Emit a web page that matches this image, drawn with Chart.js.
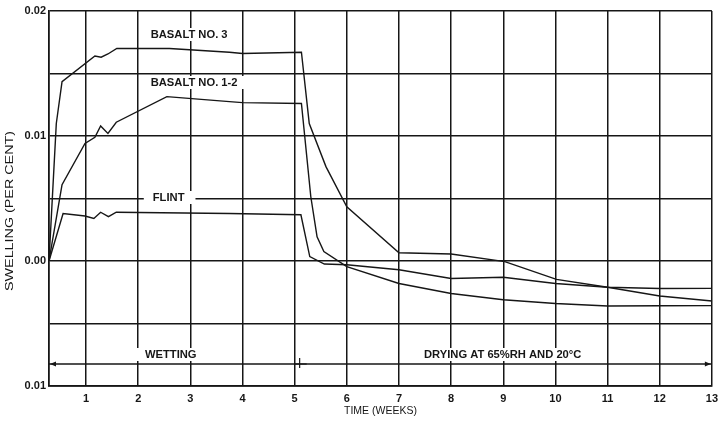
<!DOCTYPE html>
<html>
<head>
<meta charset="utf-8">
<script src="https://cdn.jsdelivr.net/npm/chart.js@4/dist/chart.umd.min.js"></script>
<style>
html,body{margin:0;padding:0;background:#fff;}
#wrap{width:724px;height:428px;position:relative;}
</style>
</head>
<body>
<div id="wrap"><canvas id="c" width="724" height="428"></canvas></div>
<script>
// ---- data (time in weeks, swelling in per cent) ----
const basalt3X = [0.29, 0.43, 0.54, 1.17, 1.29, 1.42, 1.59, 2.6, 3.75, 4.0, 5.13, 5.28, 5.6, 6.0, 7.0, 8.0, 9.03, 10.02, 11.0, 12.0, 13.0];
const basalt3Y = [0, 0.0110, 0.01435, 0.0164, 0.0163, 0.01656, 0.0170, 0.0170, 0.0167, 0.0166, 0.0167, 0.0110, 0.00755, 0.00434, 0.00066, 0.00056, -0.00005, -0.00147, -0.0021, -0.0028, -0.0032];

const basalt12X = [0.29, 0.54, 0.98, 1.17, 1.28, 1.42, 1.58, 2.55, 3.75, 4.0, 5.13, 5.31, 5.43, 5.56, 6.0, 7.0, 8.0, 9.0, 10.0, 11.0, 12.0, 13.0];
const basalt12Y = [0, 0.0061, 0.0094, 0.0099, 0.0108, 0.0102, 0.0111, 0.01315, 0.01275, 0.01267, 0.0126, 0.00514, 0.00194, 0.00075, -0.00045, -0.0018, -0.0026, -0.0031, -0.0034, -0.0036, -0.00358, -0.00357];

const flintX = [0.29, 0.56, 0.98, 1.15, 1.28, 1.43, 1.58, 3.75, 5.12, 5.29, 5.57, 6.0, 7.0, 8.0, 9.0, 10.0, 11.0, 12.0, 13.0];
const flintY = [0, 0.0038, 0.0036, 0.0034, 0.0039, 0.00355, 0.0039, 0.0038, 0.0037, 0.00035, -0.00024, -0.0003, -0.0007, -0.0014, -0.0013, -0.0018, -0.0021, -0.0022, -0.00219];

// wetting / drying marker line
const phaseLineX = [0.29, 13];
const phaseLineY = [-0.00824, -0.00824];
const phaseSplitWeek = 5;

// ticks
const xTickValues = [1,2,3,4,5,6,7,8,9,10,11,12,13];
const xTickLabels = ["1","2","3","4","5","6","7","8","9","10","11","12","13"];
const yTickValues = [-0.01, -0.005, 0, 0.005, 0.01, 0.015, 0.02];
const yTickLabels = ["0.01", "", "0.00", "", "0.01", "", "0.02"];

// annotations (text, week, value)
const noteTexts = ["BASALT NO. 3", "BASALT NO. 1-2", "FLINT", "WETTING", "DRYING AT 65%RH AND 20°C"];
const noteWeeks = [2.24, 2.24, 2.28, 2.13, 7.48];
const noteValues = [0.01808, 0.01424, 0.00504, -0.00752, -0.00752];

const xTitle = "TIME (WEEKS)";
const yTitle = "SWELLING (PER CENT)";

const INK = "#161616";
const FONT = "'Liberation Sans', Arial, sans-serif";
const pts = (xs, ys) => xs.map((x, i) => ({x: x, y: ys[i]}));

const ds = (data, w) => ({
  data: data, borderColor: INK, borderWidth: w, pointRadius: 0,
  tension: 0, fill: false
});

const annotPlugin = {
  id: 'annot',
  afterDatasetsDraw(chart) {
    const ctx = chart.ctx, xs = chart.scales.x, ys = chart.scales.y;
    ctx.save();
    // arrowheads and split tick on phase line
    const py = ys.getPixelForValue(phaseLineY[0]);
    const lx = xs.getPixelForValue(phaseLineX[0]);
    const rx = xs.getPixelForValue(phaseLineX[1]);
    ctx.fillStyle = INK;
    ctx.beginPath(); ctx.moveTo(lx + 1, py); ctx.lineTo(lx + 7, py - 2.5); ctx.lineTo(lx + 7, py + 2.5); ctx.closePath(); ctx.fill();
    ctx.beginPath(); ctx.moveTo(rx - 1, py); ctx.lineTo(rx - 7, py - 2.5); ctx.lineTo(rx - 7, py + 2.5); ctx.closePath(); ctx.fill();
    const sx = xs.getPixelForValue(phaseSplitWeek);
    ctx.strokeStyle = INK; ctx.lineWidth = 1.2;
    ctx.beginPath(); ctx.moveTo(sx + 5, py - 6); ctx.lineTo(sx + 5, py + 4); ctx.stroke();
    ctx.beginPath(); ctx.moveTo(sx, py); ctx.lineTo(sx + 12, py); ctx.stroke();

    // text labels with white background
    ctx.font = "bold 11.2px " + FONT;
    ctx.textBaseline = "middle";
    ctx.textAlign = "left";
    noteTexts.forEach((t, i) => {
      const x = xs.getPixelForValue(noteWeeks[i]);
      const y = ys.getPixelForValue(noteValues[i]);
      const w = ctx.measureText(t).width;
      ctx.fillStyle = "#fff";
      ctx.fillRect(x - 9, y - 7, w + 20, 13);
      ctx.fillStyle = INK;
      ctx.fillText(t, x, y);
    });

    // axis titles
    ctx.font = "10.5px " + FONT;
    ctx.textAlign = "center";
    ctx.fillText(xTitle, (chart.chartArea.left + chart.chartArea.right) / 2, 411);
    ctx.font = "11.5px " + FONT;
    const tw = ctx.measureText(yTitle).width;
    ctx.translate(10, 211);
    ctx.rotate(-Math.PI / 2);
    ctx.scale(160 / tw, 1);
    ctx.fillText(yTitle, 0, 0);
    ctx.restore();
  }
};

new Chart(document.getElementById('c'), {
  type: 'line',
  data: {
    datasets: [
      ds(pts(basalt3X, basalt3Y), 1.4),
      ds(pts(basalt12X, basalt12Y), 1.4),
      ds(pts(flintX, flintY), 1.4),
      ds(pts(phaseLineX, phaseLineY), 1.6)
    ]
  },
  options: {
    responsive: false,
    animation: false,
    parsing: false,
    layout: { padding: { top: 11, right: 11, left: 0, bottom: 0 } },
    plugins: { legend: { display: false }, tooltip: { enabled: false } },
    scales: {
      x: {
        type: 'linear', min: 0.29, max: 13,
        afterFit(s) { s.height = 42; },
        afterBuildTicks(s) { s.ticks = xTickValues.map(v => ({value: v})); },
        grid: { color: INK, lineWidth: 1.5, drawTicks: false },
        border: { color: INK, width: 1.8 },
        ticks: {
          padding: 6, color: INK,
          font: { family: FONT, size: 11, weight: 'bold' },
          callback: (v) => { const i = xTickValues.indexOf(v); return i >= 0 ? xTickLabels[i] : ''; },
          maxRotation: 0, autoSkip: false
        }
      },
      y: {
        type: 'linear', min: -0.01, max: 0.02,
        afterFit(s) { s.width = 49; },
        afterBuildTicks(s) { s.ticks = yTickValues.map(v => ({value: v})); },
        grid: { color: INK, lineWidth: 1.5, drawTicks: false },
        border: { color: INK, width: 1.8 },
        ticks: {
          padding: 3, color: INK,
          font: { family: FONT, size: 11, weight: 'bold' },
          callback: (v) => { const i = yTickValues.findIndex(t => Math.abs(t - v) < 1e-9); return i >= 0 ? yTickLabels[i] : ''; },
          autoSkip: false
        }
      }
    }
  },
  plugins: [annotPlugin]
});
</script>
</body>
</html>
